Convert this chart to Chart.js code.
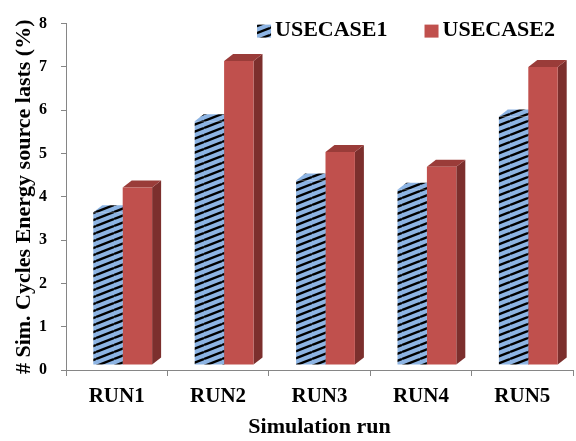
<!DOCTYPE html>
<html>
<head>
<meta charset="utf-8">
<script src="https://cdn.jsdelivr.net/npm/chart.js@4.4.1/dist/chart.umd.min.js"></script>
<style>
  html, body { margin: 0; padding: 0; background: #fff; }
  #wrap { width: 576px; height: 441px; }
</style>
</head>
<body>
<div id="wrap"><canvas id="chart1"></canvas></div>
<script>
const categories = ['RUN1', 'RUN2', 'RUN3', 'RUN4', 'RUN5'];
const usecase1 = [3.53, 5.63, 4.26, 4.05, 5.74];
const usecase2 = [4.10, 7.02, 4.92, 4.58, 6.88];
const seriesNames = ['USECASE1', 'USECASE2'];

const serif = "'Liberation Serif', 'Times New Roman', serif";
const axisGrey = '#868686';

// blue fill with black diagonal stripes
function makeHatch() {
  const c = document.createElement('canvas');
  c.width = 18; c.height = 7;
  const g = c.getContext('2d');
  g.fillStyle = '#8db4e3';
  g.fillRect(0, 0, 18, 7);
  g.strokeStyle = '#000';
  g.lineWidth = 2.4;
  for (let k = -1; k <= 1; k++) {
    g.beginPath();
    g.moveTo(0, 7 + 7 * k);
    g.lineTo(18, 7 * k);
    g.stroke();
  }
  return g.createPattern(c, 'repeat');
}
const hatch = makeHatch();

// oblique 3D: bars sit back from the floor edge, with top and side faces
const inset = { dx: 6, dy: -5 };
const depth = { dx: 9, dy: -7 };

const bar3d = {
  id: 'bar3d',
  // all top/side faces first, so the front faces cover whatever is behind them
  beforeDatasetsDraw(chart) {
    const ctx = chart.ctx;
    ctx.save();
    ctx.translate(inset.dx, inset.dy);
    chart.data.datasets.forEach((ds, i) => {
      chart.getDatasetMeta(i).data.forEach(bar => {
        const p = bar.getProps(['x', 'y', 'base', 'width'], true);
        const l = p.x - p.width / 2, r = p.x + p.width / 2;
        ctx.fillStyle = ds.sideColor;
        ctx.beginPath();
        ctx.moveTo(r, p.y);
        ctx.lineTo(r + depth.dx, p.y + depth.dy);
        ctx.lineTo(r + depth.dx, p.base + depth.dy);
        ctx.lineTo(r, p.base);
        ctx.closePath();
        ctx.fill();
        ctx.fillStyle = ds.topColor;
        ctx.beginPath();
        ctx.moveTo(l, p.y);
        ctx.lineTo(l + depth.dx, p.y + depth.dy);
        ctx.lineTo(r + depth.dx, p.y + depth.dy);
        ctx.lineTo(r, p.y);
        ctx.closePath();
        ctx.fill();
      });
    });
    ctx.restore();
  },
  beforeDatasetDraw(chart) {
    chart.ctx.save();
    chart.ctx.translate(inset.dx, inset.dy);
  },
  afterDatasetDraw(chart) {
    chart.ctx.restore();
  }
};

// legend drawn inside the plot, top right
const innerLegend = {
  id: 'innerLegend',
  afterDraw(chart) {
    const ctx = chart.ctx;
    const area = chart.chartArea;
    ctx.save();
    ctx.font = 'bold 22px ' + serif;
    ctx.textBaseline = 'middle';
    const yMid = area.top + 7;
    let x = area.right - 18;
    const sets = chart.data.datasets.slice().reverse();
    sets.forEach(ds => {
      const w = ctx.measureText(ds.label).width;
      x -= w;
      ctx.fillStyle = '#000';
      ctx.fillText(ds.label, x, yMid);
      x -= 4 + 14;
      ctx.fillStyle = ds.backgroundColor;
      ctx.fillRect(x, yMid - 6, 14, 13);
      x -= 37;
    });
    ctx.restore();
  }
};

new Chart(document.getElementById('chart1').getContext('2d'), {
  type: 'bar',
  data: {
    labels: categories,
    datasets: [
      {
        label: seriesNames[0],
        data: usecase1,
        backgroundColor: hatch,
        topColor: hatch,
        sideColor: '#2c3e55',
        borderWidth: 0,
        categoryPercentage: 0.58,
        barPercentage: 1.0
      },
      {
        label: seriesNames[1],
        data: usecase2,
        backgroundColor: '#c0504d',
        topColor: '#9a3c39',
        sideColor: '#7c2f2d',
        borderWidth: 0,
        categoryPercentage: 0.58,
        barPercentage: 1.0
      }
    ]
  },
  options: {
    responsive: true,
    maintainAspectRatio: false,
    animation: false,
    layout: { padding: { left: 7, top: 19, right: 3, bottom: 0 } },
    plugins: {
      legend: { display: false },
      tooltip: { enabled: false }
    },
    scales: {
      x: {
        grid: { display: true, drawOnChartArea: false, offset: true, tickLength: 6, color: axisGrey },
        border: { color: axisGrey },
        ticks: { color: '#000', padding: 8, font: { family: serif, size: 21, weight: 'bold' } },
        title: {
          display: true,
          text: 'Simulation run',
          color: '#000',
          padding: { top: 0, bottom: 0 },
          font: { family: serif, size: 22, weight: 'bold' }
        },
        afterFit: s => { s.height = 71; }
      },
      y: {
        min: 0,
        max: 8,
        grid: { display: true, drawOnChartArea: false, tickLength: 5, color: axisGrey },
        border: { color: axisGrey },
        ticks: { stepSize: 1, color: '#000', padding: 14, font: { family: serif, size: 16, weight: 'bold' } },
        title: {
          display: true,
          text: '# Sim. Cycles Energy source lasts (%)',
          color: '#000',
          padding: { top: 4, bottom: 4 },
          font: { family: serif, size: 22, weight: 'bold' }
        },
        afterFit: s => { s.width = 59; }
      }
    }
  },
  plugins: [bar3d, innerLegend]
});
</script>
</body>
</html>
